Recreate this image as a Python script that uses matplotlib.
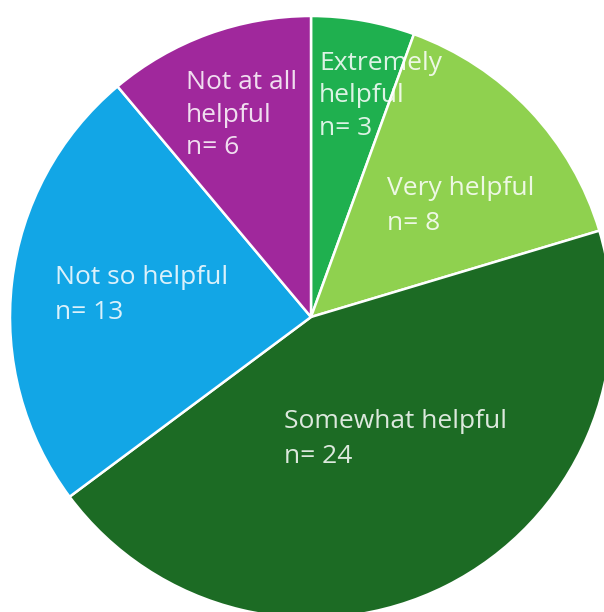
import matplotlib
matplotlib.use("Agg")
import matplotlib.pyplot as plt

categories = ["Extremely helpful", "Very helpful", "Somewhat helpful", "Not so helpful", "Not at all helpful"]
counts = [3, 8, 24, 13, 6]
label_texts = ["Extremely\nhelpful\nn= 3", "Very helpful\nn= 8", "Somewhat helpful\nn= 24",
               "Not so helpful\nn= 13", "Not at all\nhelpful\nn= 6"]
colors = ["#1fb04f", "#8fd14f", "#1c6b24", "#12a6e6", "#a0289c"]

W, H = 604, 612
fig = plt.figure(figsize=(W / 100, H / 100), dpi=100)
ax = fig.add_axes([0, 0, 1, 1])

cx, cy, r = 311, 317, 301
ax.pie(counts, colors=colors, startangle=90, counterclock=False,
       center=(cx, H - cy), radius=r,
       wedgeprops=dict(edgecolor="white", linewidth=1.8))

# label anchor positions (pixels from top-left): left x, vertical center
label_pos = [(319, 96), (387, 206), (284, 439), (55, 295), (186, 115)]
line_sp = [1.38, 1.5, 1.5, 1.5, 1.38]
for txt, (x, y), ls in zip(label_texts, label_pos, line_sp):
    ax.text(x, H - y, txt, ha="left", va="center", fontsize=19,
            family="Open Sans", weight="medium", color="white", alpha=0.85,
            linespacing=ls)

ax.set_xlim(0, W)
ax.set_ylim(0, H)
ax.set_aspect("equal", adjustable="box")
ax.axis("off")
fig.savefig("out.png", dpi=100)
